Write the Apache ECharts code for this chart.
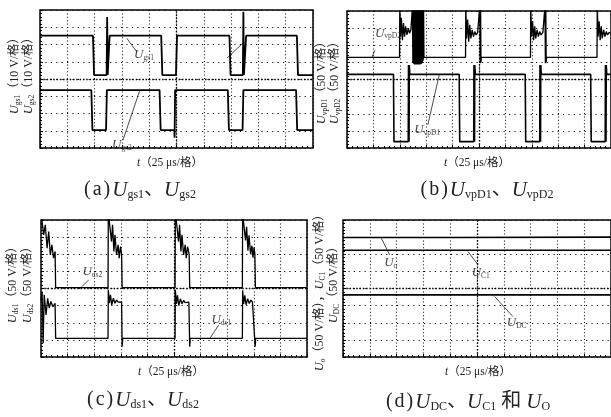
<!DOCTYPE html>
<html><head><meta charset="utf-8">
<script src="https://cdn.jsdelivr.net/npm/echarts@6/dist/echarts.min.js"></script>
<style>html,body{margin:0;padding:0;background:#fff}#c{width:611px;height:417px}</style>
</head><body><div id="c"></div>
<script>
// ---- data (x in time divisions 0..10, y in voltage divisions 0..8) ----
const xTicks = [0,1,2,3,4,5,6,7,8,9,10];
const yTicks = [0,1,2,3,4,5,6,7,8];

// (a) gate voltages
const ugs1 = [[0,6.51],[1.94,6.51],[1.98,4.23],[2.44,4.23],[2.46,7.6],[2.48,4.23],[2.51,4.23],[2.55,6.51],
  [4.44,6.51],[4.48,4.23],[4.98,4.23],[5.02,6.51],
  [6.94,6.51],[6.98,4.23],[7.43,4.23],[7.45,7.9],[7.47,4.23],[7.51,4.23],[7.55,6.51],
  [9.41,6.51],[9.45,4.23],[10,4.23]];
const ugs2 = [[0,3.36],[1.88,3.36],[1.92,1.04],[2.42,1.04],[2.45,3.36],
  [4.38,3.36],[4.42,1.04],[4.92,1.04],[4.93,0.6],[4.95,3.36],
  [6.88,3.36],[6.92,1.04],[7.42,1.04],[7.45,3.36],
  [9.38,3.36],[9.42,1.04],[10,1.04]];

// (b) diode voltages
const uvpD2 = [[0,5.29],[1.99,5.29],[2.0,8.3],[2.03,6.5],[2.06,7.6],[2.1,6.3],[2.14,7.3],[2.18,6.5],[2.22,7.1],[2.27,6.6],[2.32,7.0],[2.37,6.7],[2.42,6.9],[2.46,6.8],
  [2.48,8.3],[2.495,5.0],[2.51,8.3],[2.525,4.92],[2.54,8.3],[2.555,4.88],[2.57,8.3],[2.585,4.88],[2.6,8.3],[2.615,4.88],[2.63,8.3],[2.645,4.88],[2.66,8.3],[2.675,4.88],[2.69,8.3],[2.705,4.88],[2.72,8.3],[2.735,4.88],[2.75,8.3],[2.765,4.88],[2.78,8.3],[2.795,4.9],[2.81,8.3],[2.825,4.92],[2.84,8.3],[2.855,4.98],[2.87,8.3],[2.885,5.1],[2.9,8.3],[2.915,5.29],
  [4.49,5.29],[4.5,8.3],[4.53,6.4],[4.57,7.5],[4.61,6.2],[4.65,7.2],[4.69,6.4],[4.74,6.9],[4.79,6.5],[4.84,6.8],[4.89,6.6],[4.95,6.75],[5.01,6.7],[5.03,8.3],[5.045,4.95],[5.06,8.3],[5.075,5.0],[5.09,5.29],
  [6.95,5.29],[6.96,8.3],[6.99,6.5],[7.03,7.4],[7.07,6.3],[7.11,7.1],[7.15,6.4],[7.2,6.9],[7.25,6.5],[7.3,6.8],[7.35,6.6],[7.42,6.75],[7.48,6.7],[7.5,8.3],[7.515,4.95],[7.53,8.3],[7.545,5.0],[7.56,5.29],
  [9.47,5.29],[9.48,8.3],[9.51,6.5],[9.55,7.4],[9.59,6.3],[9.63,7.1],[9.67,6.4],[9.72,6.9],[9.77,6.5],[9.82,6.8],[9.87,6.6],[9.93,6.75],[10,6.7]];
const uvpD1 = [[0,4.3],[1.76,4.3],[1.78,0.37],[2.32,0.37],[2.33,4.84],[2.35,0.37],[2.36,4.84],[2.38,4.3],
  [4.25,4.3],[4.27,0.37],[4.8,0.37],[4.81,4.84],[4.83,0.37],[4.84,4.84],[4.86,4.3],
  [6.75,4.3],[6.77,0.37],[7.3,0.37],[7.31,4.84],[7.33,0.37],[7.34,4.84],[7.36,4.3],
  [9.23,4.3],[9.25,0.37],[9.78,0.37],[9.79,4.84],[9.81,0.37],[9.82,4.84],[9.84,4.3],[10,4.3]];

// (c) drain-source voltages
const uds2 = [[0,8.3],[0.04,7.91],[0.1,7.13],[0.16,7.72],[0.23,6.35],[0.29,7.33],[0.35,5.96],[0.41,6.55],[0.47,5.77],[0.53,6.16],[0.55,4.05],
  [2.52,4.05],[2.53,8.3],[2.57,7.9],[2.65,6.74],[2.69,7.72],[2.74,6.16],[2.78,7.13],[2.84,5.96],[2.9,6.55],[2.94,5.77],[2.99,6.45],[3.03,6.0],[3.05,4.05],
  [5.04,4.05],[5.05,8.3],[5.09,7.91],[5.17,6.74],[5.21,7.72],[5.26,6.16],[5.3,7.13],[5.36,5.96],[5.42,6.55],[5.46,5.77],[5.51,6.45],[5.57,6.0],[5.59,4.05],
  [7.57,4.05],[7.58,8.3],[7.62,7.8],[7.69,6.8],[7.73,7.6],[7.78,6.2],[7.82,7.1],[7.88,6.0],[7.93,6.5],[7.97,5.8],[8.01,6.4],[8.04,6.0],[8.06,4.05],
  [10,4.05]];
const uds1 = [[0,3.3],[0.04,3.82],[0.08,0.8],[0.12,3.63],[0.19,2.46],[0.25,3.43],[0.31,2.85],[0.37,3.24],[0.45,2.94],[0.53,3.14],[0.55,1.09],
  [2.52,1.09],[2.53,3.92],[2.57,3.14],[2.61,3.63],[2.66,3.04],[2.72,3.43],[2.78,3.14],[2.84,3.33],[2.9,3.2],[2.96,3.27],[3.03,3.22],[3.05,0.6],[3.07,1.09],
  [5.04,1.09],[5.05,3.92],[5.09,3.1],[5.13,3.6],[5.18,3.0],[5.24,3.4],[5.3,3.1],[5.36,3.3],[5.42,3.18],[5.48,3.26],[5.56,3.2],[5.59,0.6],[5.61,1.09],
  [7.57,1.09],[7.58,3.9],[7.62,3.1],[7.66,3.6],[7.71,3.05],[7.77,3.4],[7.83,3.12],[7.89,3.32],[7.95,3.2],[8.02,3.25],[8.05,0.6],[8.07,1.09],
  [10,1.09]];

// (d) DC voltages
const uo  = [[0,6.98],[4,6.98],[10,7.0]];
const uc1 = [[0,6.23],[10,6.23]];
const udc = [[0,3.63],[10,3.63]];

// annotation leaders [grid, [[x1,y1],[x2,y2]]] and labels [grid, x, y, subscript]
const leaders = [
  [0,[[3.18,6.36],[3.54,5.58]]],[0,[[7.44,6.09],[6.85,5.22]]],[0,[[3.04,0.46],[3.66,3.36]]],
  [1,[[1.06,5.71],[0.94,5.29]]],[1,[[3.06,1.34],[3.49,4.25]]],
  [2,[[1.79,4.5],[1.54,4.11]]],[2,[[6.68,1.87],[6.36,1.11]]],
  [3,[[1.43,6.94],[1.74,5.96]]],[3,[[4.66,6.16],[5.04,5.38]]],[3,[[5.66,3.53],[6.34,2.36]]]
];
const tags = [
  [0,3.81,5.39,'gs1'],[0,3.0,0.17,'gs2'],
  [1,1.55,6.7,'vpD2'],[1,3.04,1.05,'vpD1'],
  [2,1.93,4.99,'ds2'],[2,6.78,2.16,'ds1'],
  [3,1.78,5.5,'o'],[3,5.14,4.91,'C1'],[3,6.48,1.99,'DC']
];

// ---- chart ----
const SERIF = "'Liberation Serif','Noto Sans CJK SC',serif";
const grids = [
  {left:40, top:10, width:273, height:138},
  {left:347, top:11, width:267, height:137},
  {left:41, top:220, width:266, height:137},
  {left:343, top:220, width:268, height:137}
].map(g => Object.assign(g, {show:true, borderColor:'#000', borderWidth:1.5, containLabel:false}));

const xAxes = grids.map((g,i) => ({gridIndex:i, type:'value', min:xTicks[0], max:xTicks[xTicks.length-1], interval:1,
  axisLabel:{show:false}, axisLine:{show:false},
  axisTick:{show:true, inside:true, length:3, lineStyle:{color:'#000'}},
  minorTick:{show:true, splitNumber:5, length:2, lineStyle:{color:'#000'}},
  splitLine:{show:true, lineStyle:{color:'#111', width:1.1, type:[1,2.4]}}}));
const yAxes = grids.map((g,i) => ({gridIndex:i, type:'value', min:yTicks[0], max:yTicks[yTicks.length-1], interval:1,
  axisLabel:{show:false}, axisLine:{show:false},
  axisTick:{show:true, inside:true, length:3, lineStyle:{color:'#000'}},
  minorTick:{show:true, splitNumber:5, length:2, lineStyle:{color:'#000'}},
  splitLine:{show:true, lineStyle:{color:'#111', width:1.1, type:[1.2,4.2]}}}));

function trace(g, data, w) {
  return {type:'line', xAxisIndex:g, yAxisIndex:g, data, symbol:'none', showSymbol:false,
    lineStyle:{color:'#000', width:w}, clip:true, silent:true, z:3};
}
const series = [];
[0,1,2,3].forEach(g => series.push({type:'line', xAxisIndex:g, yAxisIndex:g, data:[], symbol:'none',
  markLine:{silent:true, symbol:'none', label:{show:false}, lineStyle:{color:'#000', type:[1.5,1.8], width:1.3},
  data:[{xAxis:5},{yAxis:4}]}}));
series.push(trace(0, ugs1, 1.8), trace(0, ugs2, 1.8));
series.push(trace(1, uvpD2, 1.3), trace(1, uvpD1, 1.6));
series.push(trace(2, uds2, 1.3), trace(2, uds1, 1.3));
series.push(trace(3, uo, 1.6), trace(3, uc1, 1.6), trace(3, udc, 1.6));
leaders.forEach(l => series.push(trace(l[0], l[1], 0.7)));
const tagRich = {
  u:{fontFamily:SERIF, fontStyle:'italic', fontSize:13, lineHeight:14, color:'#111'},
  s:{fontFamily:SERIF, fontSize:7.5, lineHeight:7, verticalAlign:'bottom', color:'#111'}
};
tags.forEach(t => series.push({type:'scatter', xAxisIndex:t[0], yAxisIndex:t[0], symbolSize:0, silent:true,
  data:[[t[1],t[2]]], z:5,
  label:{show:true, position:'inside', formatter:'{u|U}{s|' + t[3] + '}', rich:tagRich}}));

const axRich = {
  u:{fontFamily:SERIF, fontStyle:'italic', fontSize:12.5, lineHeight:14, color:'#222'},
  s:{fontFamily:SERIF, fontSize:7.5, lineHeight:7, verticalAlign:'bottom', color:'#222'},
  n:{fontFamily:SERIF, fontSize:12, lineHeight:14, color:'#222'},
  t:{fontFamily:SERIF, fontStyle:'italic', fontSize:11.5, lineHeight:14, color:'#222'},
  m:{fontFamily:SERIF, fontSize:11.5, lineHeight:14, color:'#222'}
};
const capRich = {
  u:{fontFamily:SERIF, fontStyle:'italic', fontSize:21, lineHeight:22, color:'#222'},
  s:{fontFamily:SERIF, fontSize:12, lineHeight:11, verticalAlign:'bottom', color:'#222'},
  n:{fontFamily:SERIF, fontSize:20, lineHeight:22, color:'#222'},
  p:{fontFamily:SERIF, fontSize:20, lineHeight:22, color:'#222', padding:[0,2,0,2]}
};
function txt(x, y, text, rich, rot) {
  return {type:'text', x, y, rotation:rot ? Math.PI/2 : 0, silent:true,
    style:{text, rich, align:'center', verticalAlign:'middle', fill:'#222'}};
}
const yl = (s, v) => '{u|U}{s|' + s + '}{n|（' + v + ' V/格）}';
const xl = '{t|t}{m|（25 μs/格）}';
const cap = (c, a, b) => '{p|(}{n|' + c + '}{p|)}{u|U}{s|' + a + '}{n|、}{u|U}{s|' + b + '}';
const graphic = [
  txt(15, 73, yl('gs1', 10), axRich, true), txt(29, 73, yl('gs2', 10), axRich, true),
  txt(321.5, 80, yl('vpD1', 50), axRich, true), txt(335, 80, yl('vpD2', 50), axRich, true),
  txt(13, 282, yl('ds1', 50), axRich, true), txt(28, 282, yl('ds2', 50), axRich, true),
  txt(320, 290, '{u|U}{s|o}{n|（50 V/格），}{u|U}{s|C1}{n|（50 V/格）}', axRich, true),
  txt(334, 282, yl('DC', 50), axRich, true),
  txt(170, 163, xl, axRich), txt(477, 163, xl, axRich),
  txt(171, 372, xl, axRich), txt(478, 372, xl, axRich),
  txt(139, 190, cap('a', 'gs1', 'gs2'), capRich),
  txt(486, 190, cap('b', 'vpD1', 'vpD2'), capRich),
  txt(142, 400, cap('c', 'ds1', 'ds2'), capRich),
  txt(467, 402, '{p|(}{n|d}{p|)}{u|U}{s|DC}{n|、}{u|U}{s|C1}{n| 和 }{u|U}{s|O}', capRich)
];

const chart = echarts.init(document.getElementById('c'), null, {renderer:'canvas'});
chart.setOption({animation:false, backgroundColor:'#fff', grid:grids, xAxis:xAxes, yAxis:yAxes, series, graphic});
</script></body></html>
